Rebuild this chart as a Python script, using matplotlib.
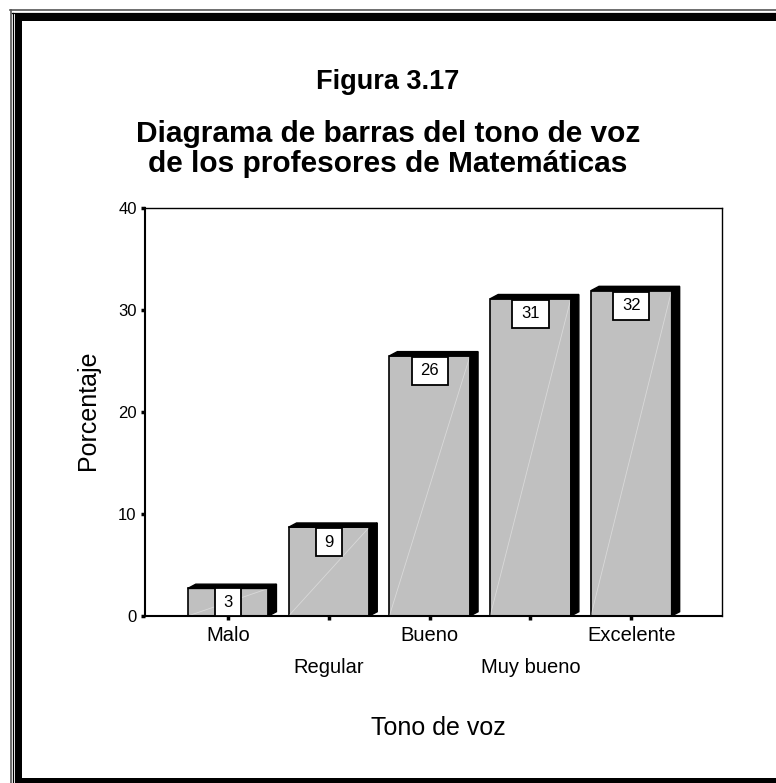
import matplotlib
matplotlib.use("Agg")
import matplotlib.pyplot as plt
from matplotlib.patches import Polygon, Rectangle
from matplotlib.lines import Line2D

plt.rcParams['font.family'] = ['Liberation Sans', 'DejaVu Sans']

categorias = ['Malo', 'Regular', 'Bueno', 'Muy bueno', 'Excelente']
porcentaje = [2.7, 8.7, 25.5, 31.1, 31.9]
etiquetas = ['3', '9', '26', '31', '32']

W, H = 776, 783
fig = plt.figure(figsize=(W / 100, H / 100), dpi=100)


def fx(px):
    return px / W


def fy(py):
    return 1 - py / H


# marco exterior (doble linea + linea gruesa)
fig.add_artist(Line2D([fx(10.5), fx(10.5)], [fy(10), 0], color='#555555', lw=1.2))
fig.add_artist(Line2D([fx(10), 1], [fy(10), fy(10)], color='#555555', lw=1.2))
fig.add_artist(Line2D([fx(13), fx(13)], [fy(12.5), 0], color='black', lw=0.9))
fig.add_artist(Line2D([fx(12.5), 1], [fy(12.5), fy(12.5)], color='black', lw=0.9))
fig.add_artist(Rectangle((fx(15), fy(783)), fx(7), fy(14) - fy(783),
                         transform=fig.transFigure, color='black', lw=0))
fig.add_artist(Rectangle((fx(15), fy(21)), 1 - fx(15), fy(14) - fy(21),
                         transform=fig.transFigure, color='black', lw=0))
fig.add_artist(Rectangle((fx(15), 0), 1 - fx(15), fy(778),
                         transform=fig.transFigure, color='black', lw=0))

fig.text(fx(388), fy(82), 'Figura 3.17', ha='center', va='center',
         fontsize=19.5, fontweight='bold')
fig.text(fx(388), fy(149), 'Diagrama de barras del tono de voz\nde los profesores de Matemáticas',
         ha='center', va='center', fontsize=21.5, fontweight='bold', linespacing=1.07)

ax = fig.add_axes([fx(145), fy(616), fx(722) - fx(145), fy(208) - fy(616)])

x = list(range(len(categorias)))
w = 0.8
dx, dy = 0.08, 0.42
box_h = 2.75

ax.bar(x, porcentaje, width=w, color='#c0c0c0', edgecolor='black', linewidth=1.2, zorder=2)
for xi, h, lab in zip(x, porcentaje, etiquetas):
    l, r = xi - w / 2, xi + w / 2
    # caras laterales y superior (efecto 3D)
    ax.add_patch(Polygon([(r, 0), (r + dx, dy), (r + dx, h + dy), (r, h)],
                         closed=True, facecolor='black', edgecolor='black', lw=1, zorder=3))
    ax.add_patch(Polygon([(l, h), (l + dx, h + dy), (r + dx, h + dy), (r, h)],
                         closed=True, facecolor='black', edgecolor='black', lw=1, zorder=3))
    ax.plot([l, r], [0, h], color='white', lw=0.6, alpha=0.4, zorder=2.5)
    bw = 0.16 + 0.1 * len(lab)
    if h < box_h + 1:
        yc = h / 2
        bh = h
    else:
        yc = h - 0.1 - box_h / 2
        bh = box_h
    ax.add_patch(Rectangle((xi - bw / 2, yc - bh / 2), bw, bh, facecolor='white',
                           edgecolor='black', lw=1.3, zorder=4))
    ax.text(xi, yc, lab, ha='center', va='center', fontsize=12, zorder=5)

ax.set_xlim(-0.824, 4.90)
ax.set_ylim(0, 40)
ax.set_yticks([0, 10, 20, 30, 40])
ax.tick_params(axis='y', length=3, width=2.5, labelsize=12, pad=3)
ax.set_xticks(x)
ax.set_xticklabels([c if i % 2 == 0 else '\n' + c for i, c in enumerate(categorias)],
                   fontsize=14.5, linespacing=1.9)
ax.tick_params(axis='x', length=3, width=2.5, pad=4)
for s in ['left', 'bottom']:
    ax.spines[s].set_linewidth(1.5)
for s in ['top', 'right']:
    ax.spines[s].set_linewidth(1.0)

fig.text(fx(88), fy(410), 'Porcentaje', rotation=90, ha='center', va='center', fontsize=18)
fig.text(fx(438), fy(728), 'Tono de voz', ha='center', va='center', fontsize=18)

fig.savefig('out.png', dpi=100)
